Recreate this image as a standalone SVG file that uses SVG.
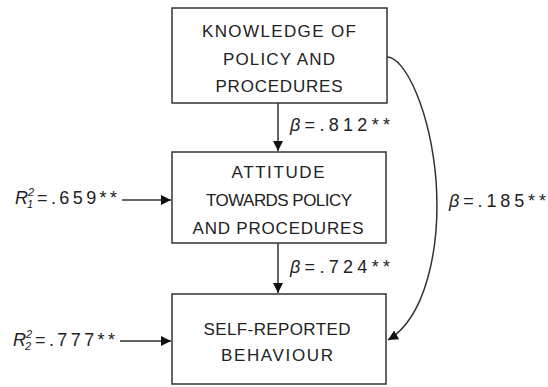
<svg xmlns="http://www.w3.org/2000/svg" width="548" height="387" viewBox="0 0 548 387">
<style>
.box{fill:#fff;stroke:#333;stroke-width:1.5}
.t{font-family:"Liberation Sans",Arial,sans-serif;font-size:17px;fill:#222;text-anchor:middle}
.l{font-family:"Liberation Sans",Arial,sans-serif;font-size:18px;fill:#222}
.i{font-style:italic}
.s{font-size:11px;font-style:italic}
.c{fill:none;stroke:#333;stroke-width:1.5}
</style>
<defs>
<marker id="ah" markerWidth="10" markerHeight="10" refX="10" refY="5" orient="auto" markerUnits="userSpaceOnUse">
<path d="M0,0 L10,5 L0,10 Z" fill="#111"/>
</marker>
</defs>
<rect width="548" height="387" fill="#fff"/>
<g id="connectors">
<line class="c" x1="278" y1="103" x2="278" y2="151" marker-end="url(#ah)"/>
<line class="c" x1="278" y1="243" x2="278" y2="293" marker-end="url(#ah)"/>
<line class="c" x1="122" y1="200" x2="171" y2="200" marker-end="url(#ah)"/>
<line class="c" x1="120" y1="341" x2="171" y2="341" marker-end="url(#ah)"/>
<path class="c" d="M387,57 C405,57 430,110 436,180 C441,250 425,318 388,340" marker-end="url(#ah)"/>
<text class="l" x="290" y="131" textLength="100" lengthAdjust="spacing"><tspan class="i">β</tspan>=.812**</text>
<text class="l" x="290" y="273" textLength="100" lengthAdjust="spacing"><tspan class="i">β</tspan>=.724**</text>
<text class="l" x="449" y="207" textLength="97" lengthAdjust="spacing"><tspan class="i">β</tspan>=.185**</text>
<text class="l" y="204"><tspan class="i" x="15">R</tspan><tspan class="s" x="28" y="196">2</tspan><tspan class="s" x="27" y="208">1</tspan><tspan x="37" y="204" textLength="80" lengthAdjust="spacing">=.659**</tspan></text>
<text class="l" y="346"><tspan class="i" x="13">R</tspan><tspan class="s" x="26" y="338">2</tspan><tspan class="s" x="25" y="350">2</tspan><tspan x="35" y="346" textLength="80" lengthAdjust="spacing">=.777**</tspan></text>
</g>
<g id="knowledge">
<rect class="box" x="172" y="8" width="215" height="95"/>
<text class="t" x="279" y="37" textLength="154" lengthAdjust="spacing">KNOWLEDGE OF</text>
<text class="t" x="279" y="65" textLength="112" lengthAdjust="spacing">POLICY AND</text>
<text class="t" x="279" y="92" textLength="127" lengthAdjust="spacing">PROCEDURES</text>
</g>
<g id="attitude">
<rect class="box" x="172" y="152" width="214" height="91"/>
<text class="t" x="278" y="178" textLength="93" lengthAdjust="spacing">ATTITUDE</text>
<text class="t" x="279" y="206" textLength="146" lengthAdjust="spacing">TOWARDS POLICY</text>
<text class="t" x="278" y="234" textLength="171" lengthAdjust="spacing">AND PROCEDURES</text>
</g>
<g id="behaviour">
<rect class="box" x="172" y="294" width="214" height="90"/>
<text class="t" x="277" y="335" textLength="147" lengthAdjust="spacing">SELF-REPORTED</text>
<text class="t" x="277" y="361" textLength="112" lengthAdjust="spacing">BEHAVIOUR</text>
</g>
</svg>
